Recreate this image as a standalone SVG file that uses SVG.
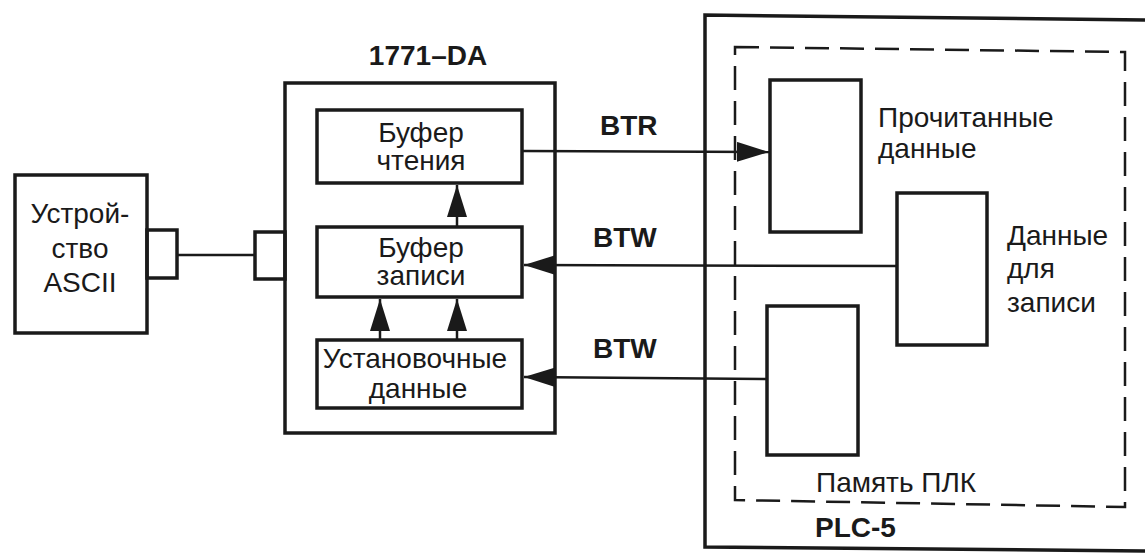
<svg xmlns="http://www.w3.org/2000/svg" width="1145" height="554" viewBox="0 0 1145 554">
<style>
.box{fill:none;stroke:#1a1a1a;stroke-width:3.5}
.wire{fill:none;stroke:#1a1a1a;stroke-width:2.5}
.dash{fill:none;stroke:#1a1a1a;stroke-width:2.5;stroke-dasharray:24 11}
.t{font-family:"Liberation Sans",Arial,sans-serif;font-size:28px;fill:#1a1a1a}
.b{font-family:"Liberation Sans",Arial,sans-serif;font-size:28px;font-weight:bold;fill:#1a1a1a}
.m{text-anchor:middle}
</style>
<defs>
<marker id="ah" viewBox="0 0 32 20" refX="32" refY="10" markerWidth="32" markerHeight="20" markerUnits="userSpaceOnUse" orient="auto">
<path d="M0,0 L32,10 L0,20 z" fill="#1a1a1a"/>
</marker>
</defs>
<rect width="1145" height="554" fill="#ffffff"/>

<g id="ascii">
<rect class="box" x="15" y="175" width="132" height="158"/>
<rect class="box" x="147" y="230" width="30" height="48"/>
<text class="t m" x="80" y="223">Устрой-</text>
<text class="t m" x="80" y="258">ство</text>
<text class="t m" x="80" y="292">ASCII</text>
</g>

<g id="da1771">
<rect class="box" x="285" y="83" width="270" height="350"/>
<rect class="box" x="255" y="232" width="30" height="47"/>
<text class="b m" x="428" y="65" font-size="29">1771–DA</text>
</g>

<g id="read-buffer">
<rect class="box" x="317" y="110" width="205" height="73"/>
<text class="t m" x="421" y="142">Буфер</text>
<text class="t m" x="421" y="170">чтения</text>
</g>

<g id="write-buffer">
<rect class="box" x="317" y="227" width="205" height="70"/>
<text class="t m" x="421" y="257">Буфер</text>
<text class="t m" x="421" y="285">записи</text>
</g>

<g id="setup-data">
<rect class="box" x="317" y="340" width="205" height="68"/>
<text class="t m" x="415" y="368" font-size="27">Установочные</text>
<text class="t m" x="418" y="398" font-size="27">данные</text>
</g>

<g id="plc5">
<path class="box" d="M1150,20 L705,15 L705,547 L1150,551"/>
<text class="b" x="815" y="537">PLC-5</text>
</g>

<g id="plc-memory">
<path class="dash" d="M735,47 L1125,52 L1125,507 L735,500 Z"/>
<text class="t" x="816" y="492">Память ПЛК</text>
</g>

<g id="read-data">
<rect class="box" x="770" y="80" width="91" height="152"/>
<text class="t" x="878" y="127">Прочитанные</text>
<text class="t" x="878" y="158">данные</text>
</g>

<g id="write-data">
<rect class="box" x="897" y="193" width="90" height="152"/>
<text class="t" x="1007" y="245">Данные</text>
<text class="t" x="1007" y="278">для</text>
<text class="t" x="1007" y="312">записи</text>
</g>

<g id="setup-source">
<rect class="box" x="767" y="306" width="91" height="149"/>
</g>

<g id="connectors">
<line class="wire" x1="177" y1="255" x2="255" y2="255"/>
<line class="wire" x1="522" y1="151" x2="769" y2="152" marker-end="url(#ah)"/>
<line class="wire" x1="897" y1="266" x2="524" y2="265" marker-end="url(#ah)"/>
<line class="wire" x1="767" y1="379" x2="524" y2="377" marker-end="url(#ah)"/>
<line class="wire" x1="457" y1="227" x2="457" y2="185" marker-end="url(#ah)"/>
<line class="wire" x1="380" y1="340" x2="380" y2="299" marker-end="url(#ah)"/>
<line class="wire" x1="457" y1="340" x2="457" y2="299" marker-end="url(#ah)"/>
<text class="b" x="600" y="135">BTR</text>
<text class="b" x="593" y="247">BTW</text>
<text class="b" x="593" y="358">BTW</text>
</g>
</svg>
